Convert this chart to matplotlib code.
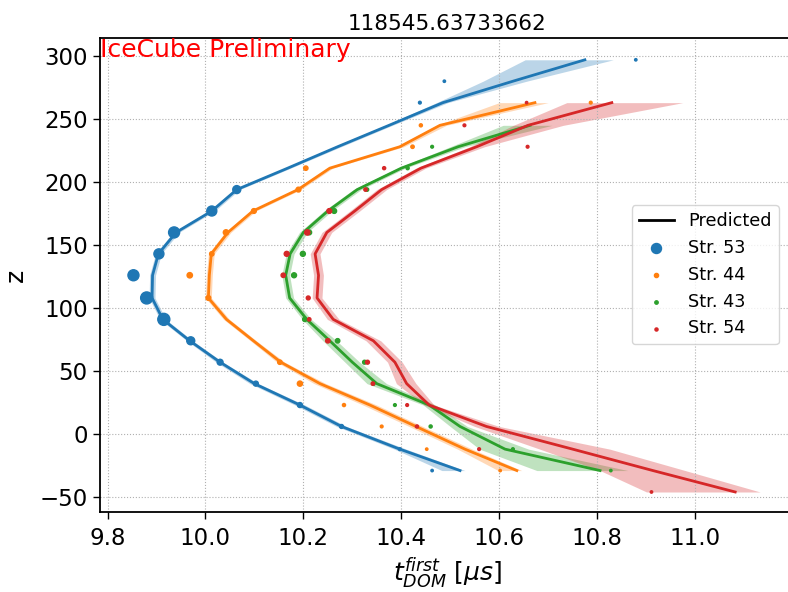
import matplotlib
matplotlib.use("Agg")
import matplotlib.pyplot as plt
from matplotlib.lines import Line2D
import numpy as np

# DOM depths along a string (m), index k = 0..20
z_dom = [297, 280, 263, 245, 228, 211, 194, 177, 160, 143, 126,
         108, 91, 74, 57, 40, 23, 6, -12, -29, -46]

# predicted first-hit times per string: (first DOM index, centre, low, high)
pred_53_k0 = 0
pred_53 = [10.775, 10.628, 10.485, 10.375, 10.27, 10.168, 10.064, 10.013, 9.940, 9.904,
           9.892, 9.891, 9.913, 9.968, 10.03, 10.10, 10.193, 10.278, 10.397, 10.52]
pred_53_lo = [10.653, 10.567, 10.472, 10.368, 10.263, 10.162, 10.058, 10.007, 9.934, 9.898,
              9.886, 9.885, 9.907, 9.962, 10.022, 10.091, 10.183, 10.268, 10.386, 10.483]
pred_53_hi = [10.833, 10.656, 10.495, 10.382, 10.277, 10.174, 10.070, 10.019, 9.946, 9.910,
              9.898, 9.897, 9.919, 9.974, 10.036, 10.108, 10.203, 10.288, 10.41, 10.53]

pred_44_k0 = 2
pred_44 = [10.673, 10.479, 10.397, 10.254, 10.189, 10.097, 10.046, 10.012, 10.008,
           10.006, 10.043, 10.098, 10.154, 10.234, 10.336, 10.43, 10.53, 10.636]
pred_44_lo = [10.600, 10.472, 10.390, 10.248, 10.183, 10.091, 10.040, 10.006, 10.002,
              10.000, 10.037, 10.092, 10.146, 10.222, 10.322, 10.416, 10.515, 10.598]
pred_44_hi = [10.700, 10.492, 10.405, 10.260, 10.195, 10.103, 10.052, 10.018, 10.014,
              10.012, 10.049, 10.104, 10.162, 10.246, 10.350, 10.444, 10.545, 10.646]

pred_43_k0 = 3
pred_43 = [10.663, 10.516, 10.40, 10.31, 10.25, 10.20, 10.173, 10.164, 10.172,
           10.207, 10.254, 10.30, 10.35, 10.457, 10.52, 10.612, 10.806]
pred_43_lo = [10.608, 10.500, 10.392, 10.302, 10.242, 10.192, 10.165, 10.156, 10.164,
              10.198, 10.240, 10.285, 10.33, 10.445, 10.50, 10.56, 10.677]
pred_43_hi = [10.708, 10.530, 10.408, 10.318, 10.258, 10.208, 10.181, 10.172, 10.180,
              10.216, 10.268, 10.315, 10.37, 10.47, 10.535, 10.66, 10.863]

pred_54_k0 = 2
pred_54 = [10.83, 10.659, 10.554, 10.44, 10.36, 10.305, 10.248, 10.224, 10.231, 10.228,
           10.261, 10.343, 10.387, 10.411, 10.457, 10.574, 10.75, 10.914, 11.082]
pred_54_lo = [10.738, 10.629, 10.540, 10.43, 10.35, 10.295, 10.238, 10.214, 10.221, 10.218,
              10.249, 10.328, 10.372, 10.39, 10.447, 10.55, 10.683, 10.806, 10.901]
pred_54_hi = [10.975, 10.731, 10.570, 10.45, 10.37, 10.315, 10.258, 10.234, 10.241, 10.238,
              10.273, 10.358, 10.402, 10.43, 10.467, 10.60, 10.826, 10.98, 11.133]

# measured hits: DOM index, time (us), charge (marker area)
hit_53_k = [0, 1, 2, 6, 7, 8, 9, 10, 11, 12, 13, 14, 15, 16, 17, 18, 19]
hit_53_t = [10.879, 10.488, 10.438, 10.064, 10.013, 9.936, 9.905, 9.853, 9.880, 9.915,
            9.970, 10.030, 10.103, 10.193, 10.278, 10.397, 10.463]
hit_53_q = [3, 3, 4, 33, 52, 63, 52, 63, 75, 75, 33, 18, 13, 13, 8, 4, 3]

hit_44_k = [2, 3, 4, 5, 6, 7, 8, 9, 10, 11, 14, 15, 16, 17, 18, 19]
hit_44_t = [10.787, 10.440, 10.423, 10.205, 10.19, 10.099, 10.042, 10.013, 9.968, 10.006,
            10.152, 10.193, 10.283, 10.36, 10.452, 10.602]
hit_44_q = [4, 5, 6, 10, 12, 12, 15, 10, 15, 12, 10, 14, 5, 4, 3, 3]

hit_43_k = [4, 5, 6, 7, 8, 9, 10, 12, 13, 14, 15, 16, 17, 18, 19]
hit_43_t = [10.463, 10.413, 10.33, 10.263, 10.212, 10.199, 10.181, 10.203, 10.270,
            10.325, 10.343, 10.387, 10.46, 10.628, 10.828]
hit_43_q = [4, 5, 6, 12, 12, 13, 13, 10, 10, 8, 6, 4, 5, 4, 3]

hit_54_k = [2, 3, 4, 5, 6, 7, 8, 9, 10, 11, 12, 13, 14, 15, 16, 17, 18, 20]
hit_54_t = [10.656, 10.529, 10.658, 10.365, 10.327, 10.253, 10.208, 10.166, 10.159, 10.21,
            10.212, 10.25, 10.331, 10.342, 10.412, 10.432, 10.559, 10.911]
hit_54_q = [3, 4, 4, 5, 6, 12, 15, 13, 10, 8, 6, 10, 8, 6, 4, 5, 4, 3]

strings = [
    ("Str. 53", "#1f77b4", pred_53_k0, pred_53, pred_53_lo, pred_53_hi, hit_53_k, hit_53_t, hit_53_q, 52),
    ("Str. 44", "#ff7f0e", pred_44_k0, pred_44, pred_44_lo, pred_44_hi, hit_44_k, hit_44_t, hit_44_q, 9),
    ("Str. 43", "#2ca02c", pred_43_k0, pred_43, pred_43_lo, pred_43_hi, hit_43_k, hit_43_t, hit_43_q, 6),
    ("Str. 54", "#d62728", pred_54_k0, pred_54, pred_54_lo, pred_54_hi, hit_54_k, hit_54_t, hit_54_q, 5),
]

z_dom = np.array(z_dom)

fig = plt.figure(figsize=(7.88, 5.92), dpi=100)
ax = fig.add_axes([0.1263, 0.1351, 0.8826, 0.8007])

scat_handles = []
for label, color, k0, mid, lo, hi, hk, ht, hq, leg_size in strings:
    zz = z_dom[k0:k0 + len(mid)]
    ax.fill_betweenx(zz, lo, hi, color=color, alpha=0.3, linewidth=0)
    ax.plot(mid, zz, color=color, lw=2)
    sc = ax.scatter(ht, z_dom[hk], s=hq, color=color, label=label, zorder=3)
    scat_handles.append((sc, leg_size))

ax.set_xlim(9.7837, 11.2042)
ax.set_ylim(-61.9, 314.3)
ax.set_xticks([9.8, 10.0, 10.2, 10.4, 10.6, 10.8, 11.0])
ax.set_yticks([-50, 0, 50, 100, 150, 200, 250, 300])
ax.grid(True, linestyle=":", color="#b0b0b0", linewidth=0.8)
ax.tick_params(labelsize=16.5, length=5, width=1)
ax.tick_params(axis="x", pad=6)
for sp in ax.spines.values():
    sp.set_linewidth(1.3)

ax.set_xlabel(r"$t_{DOM}^{first}$ [$\mu s$]", fontsize=18)
ax.set_ylabel("z", fontsize=18, labelpad=8)
ax.set_title("118545.63733662", fontsize=15.5)
ax.text(0.0, 1.0, "IceCube Preliminary", color="red", fontsize=18,
        transform=ax.transAxes, va="top", ha="left")

handles = [Line2D([], [], color="black", lw=2)] + [h for h, _ in scat_handles]
labels = ["Predicted"] + [s[0] for s in strings]
leg = ax.legend(handles, labels, loc="upper left", bbox_to_anchor=(0.7652, 0.6477),
                borderaxespad=0, fontsize=12.7, framealpha=0.8)
for h, (_, size) in zip(leg.legend_handles[1:], scat_handles):
    h.set_sizes([size])

fig.savefig("out.png", dpi=100)
